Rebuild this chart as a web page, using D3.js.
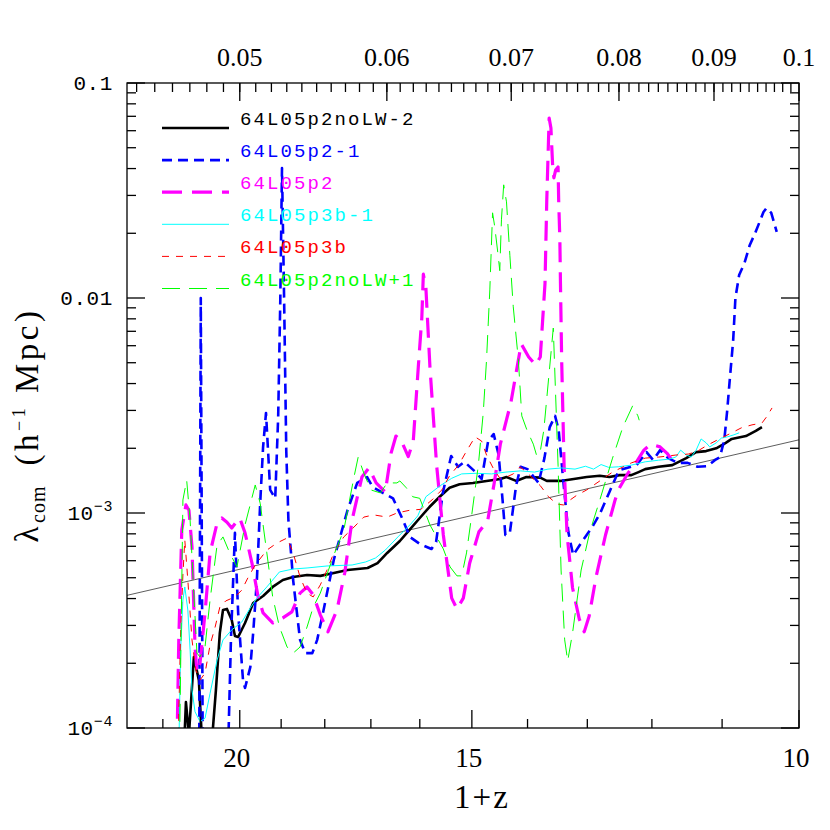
<!DOCTYPE html>
<html><head><meta charset="utf-8">
<script src="https://cdn.jsdelivr.net/npm/d3@7"></script>
<style>body{margin:0;background:#fff}</style>
</head><body>
<svg id="c" width="830" height="830"></svg>
<script>
// ---------- data (1+z, lambda_com in h^-1 Mpc) ----------
const seriesNames = ["64L05p2noLW-2","64L05p2-1","64L05p2","64L05p3b-1","64L05p3b","64L05p2noLW+1"];
const seriesColors = ["#000000","#0000ff","#ff00ff","#00ffff","#ff0000","#00ff00"];
const seriesWidths = [2.6,2.6,3.2,1,1,1];
const seriesDashes = [null,"10,6","20,10",null,"7,7","18,9"];

const black = [[21.43,8e-5],[21.38,1.32e-4],[21.30,9.3e-5],[21.17,2.14e-4],[21.04,1.67e-4],[20.96,8.8e-5],[20.70,8.8e-5],[20.60,1.5e-4],[20.50,2.77e-4],[20.42,3.54e-4],[20.32,3.58e-4],[20.20,3.18e-4],[20.12,2.68e-4],[20.04,2.65e-4],[19.87,3.08e-4],[19.67,3.81e-4],[19.43,4.11e-4],[19.20,4.53e-4],[18.96,4.88e-4],[18.72,5.04e-4],[18.40,5.15e-4],[18.10,5.1e-4],[17.80,5.26e-4],[17.50,5.43e-4],[17.07,5.55e-4],[16.86,5.85e-4],[16.66,6.52e-4],[16.40,7.41e-4],[16.21,8.33e-4],[16.00,9.48e-4],[15.81,1.066e-3],[15.61,1.19e-3],[15.42,1.31e-3],[15.23,1.36e-3],[14.98,1.38e-3],[14.73,1.41e-3],[14.48,1.44e-3],[14.37,1.47e-3],[14.20,1.41e-3],[14.02,1.47e-3],[13.78,1.46e-3],[13.67,1.41e-3],[13.44,1.41e-3],[13.22,1.44e-3],[13.01,1.47e-3],[12.80,1.49e-3],[12.65,1.47e-3],[12.49,1.5e-3],[12.31,1.5e-3],[12.20,1.55e-3],[12.10,1.6e-3],[11.90,1.64e-3],[11.70,1.67e-3],[11.50,1.8e-3],[11.36,1.92e-3],[11.22,1.94e-3],[11.08,2.0e-3],[10.95,2.12e-3],[10.87,2.21e-3],[10.68,2.28e-3],[10.55,2.41e-3],[10.47,2.51e-3]];

const blue = [[21.03,8e-5],[20.99,1.0e-2],[20.94,8e-5],[20.29,8e-5],[20.22,2.57e-4],[20.12,8.09e-4],[20.04,3.43e-4],[19.92,1.67e-4],[19.87,1.535e-4],[19.74,1.92e-4],[19.67,2.77e-4],[19.58,4.88e-4],[19.50,1.11e-3],[19.43,2.03e-3],[19.36,2.92e-3],[19.26,1.28e-3],[19.14,1.17e-3],[19.07,2.8e-3],[19.02,9.8e-3],[18.98,4.02e-2],[18.93,9.8e-3],[18.88,1.96e-3],[18.83,9.3e-4],[18.72,4.88e-4],[18.56,2.57e-4],[18.44,2.23e-4],[18.28,2.23e-4],[18.17,2.57e-4],[18.04,3.43e-4],[17.80,6.05e-4],[17.50,1.03e-3],[17.29,1.38e-3],[17.08,1.47e-3],[16.96,1.32e-3],[16.75,1.24e-3],[16.54,1.17e-3],[16.34,9.3e-4],[16.20,7.74e-4],[16.00,7.18e-4],[15.77,6.8e-4],[15.68,7.33e-4],[15.55,1.24e-3],[15.39,1.84e-3],[15.26,1.64e-3],[15.14,1.73e-3],[14.93,1.55e-3],[14.82,1.44e-3],[14.70,2.16e-3],[14.60,2.33e-3],[14.51,1.86e-3],[14.44,1.15e-3],[14.39,7.9e-4],[14.31,8.1e-4],[14.20,1.34e-3],[14.12,1.64e-3],[14.00,1.6e-3],[13.89,1.47e-3],[13.81,1.38e-3],[13.71,1.8e-3],[13.62,2.51e-3],[13.53,2.83e-3],[13.47,2.43e-3],[13.39,1.38e-3],[13.31,8.17e-4],[13.23,6.37e-4],[13.09,7.33e-4],[12.93,8.52e-4],[12.80,9.9e-4],[12.65,1.25e-3],[12.50,1.58e-3],[12.38,1.62e-3],[12.23,1.67e-3],[12.08,1.92e-3],[11.98,1.76e-3],[11.88,1.96e-3],[11.76,1.8e-3],[11.62,1.71e-3],[11.48,1.71e-3],[11.34,1.64e-3],[11.20,1.65e-3],[11.10,1.76e-3],[11.03,1.82e-3],[10.97,2.19e-3],[10.93,3.01e-3],[10.90,4.02e-3],[10.85,6.37e-3],[10.82,1e-2],[10.77,1.28e-2],[10.70,1.45e-2],[10.63,1.76e-2],[10.56,2.0e-2],[10.50,2.26e-2],[10.45,2.51e-2],[10.41,2.62e-2],[10.35,2.49e-2],[10.28,2.03e-2]];

const magenta = [[21.62,8e-5],[21.57,2.57e-4],[21.49,8.33e-4],[21.38,1.09e-3],[21.30,1.03e-3],[21.22,6.95e-4],[21.14,2.38e-4],[21.09,1.82e-4],[21.01,2.0e-4],[20.88,3.43e-4],[20.75,6.52e-4],[20.57,8.98e-4],[20.45,9.48e-4],[20.32,9.06e-4],[20.20,8.52e-4],[20.07,9.17e-4],[20.00,9.48e-4],[19.87,8.09e-4],[19.70,5.85e-4],[19.55,4.07e-4],[19.43,3.43e-4],[19.20,3.08e-4],[18.96,3.25e-4],[18.75,3.47e-4],[18.56,4.24e-4],[18.40,4.53e-4],[18.26,4.16e-4],[18.10,3.36e-4],[17.93,2.8e-4],[17.73,3.54e-4],[17.56,5.26e-4],[17.40,9.3e-4],[17.19,1.47e-3],[17.04,1.62e-3],[16.89,1.38e-3],[16.70,1.25e-3],[16.58,1.9e-3],[16.48,2.28e-3],[16.38,2.19e-3],[16.23,1.83e-3],[16.13,2.16e-3],[16.03,4.77e-3],[15.96,8.09e-3],[15.93,1.29e-2],[15.88,1.12e-2],[15.80,4.77e-3],[15.67,1.67e-3],[15.54,7.9e-4],[15.38,4.02e-4],[15.28,3.58e-4],[15.16,4.02e-4],[15.04,5.85e-4],[14.87,8.17e-4],[14.71,9.17e-4],[14.59,1.38e-3],[14.48,2.09e-3],[14.29,3.28e-3],[14.11,6.12e-3],[13.98,5.32e-3],[13.86,4.88e-3],[13.78,5.32e-3],[13.70,1.17e-2],[13.67,2.86e-2],[13.63,6.87e-2],[13.60,6.18e-2],[13.57,4.07e-2],[13.55,3.62e-2],[13.52,3.94e-2],[13.48,4.07e-2],[13.47,2.86e-2],[13.45,1.86e-2],[13.44,1.17e-2],[13.42,5.15e-3],[13.38,1.67e-3],[13.33,7.9e-4],[13.24,4.48e-4],[13.13,3.21e-4],[13.05,2.8e-4],[12.97,3.32e-4],[12.86,5.04e-4],[12.71,7.9e-4],[12.56,1.15e-3],[12.51,1.28e-3],[12.36,1.535e-3],[12.24,1.71e-3],[12.12,1.96e-3],[12.02,2.09e-3],[11.88,2.03e-3],[11.78,1.9e-3],[11.66,1.69e-3]];

const cyan = [[21.57,8e-5],[21.52,2.31e-4],[21.46,3.94e-4],[21.41,4.53e-4],[21.33,3.54e-4],[21.27,2.31e-4],[21.22,1.5e-4],[21.14,1.19e-4],[21.01,1.07e-4],[20.88,1.11e-4],[20.75,1.45e-4],[20.57,2.07e-4],[20.42,2.57e-4],[20.20,2.86e-4],[19.95,3.11e-4],[19.74,3.62e-4],[19.58,4.02e-4],[19.34,4.53e-4],[19.04,5.32e-4],[18.72,5.49e-4],[18.40,5.55e-4],[17.95,5.67e-4],[17.40,5.73e-4],[17.11,5.92e-4],[16.90,6.18e-4],[16.70,6.72e-4],[16.44,7.74e-4],[16.18,8.89e-4],[16.04,9.7e-4],[15.88,1.19e-3],[15.60,1.34e-3],[15.38,1.45e-3],[15.19,1.52e-3],[14.92,1.53e-3],[14.64,1.52e-3],[14.38,1.55e-3],[14.12,1.57e-3],[13.88,1.55e-3],[13.65,1.6e-3],[13.42,1.62e-3],[13.20,1.6e-3],[13.03,1.65e-3],[12.90,1.6e-3],[12.78,1.68e-3],[12.66,1.63e-3],[12.51,1.64e-3],[12.31,1.67e-3],[12.10,1.73e-3],[11.90,1.76e-3],[11.75,1.78e-3],[11.65,1.82e-3],[11.58,1.96e-3],[11.50,1.86e-3],[11.43,1.82e-3],[11.36,1.96e-3],[11.29,2.21e-3],[11.22,2.12e-3],[11.17,2.03e-3],[11.08,2.12e-3],[11.01,2.23e-3],[10.93,2.26e-3],[10.84,2.31e-3],[10.77,2.36e-3]];

const red = [[21.59,8e-5],[21.52,2.86e-4],[21.46,5.15e-4],[21.41,7.5e-4],[21.33,4.88e-4],[21.22,2.57e-4],[21.12,1.86e-4],[21.01,1.67e-4],[20.88,1.8e-4],[20.75,2.43e-4],[20.62,2.95e-4],[20.50,3.65e-4],[20.35,3.9e-4],[20.12,4.07e-4],[19.95,4.38e-4],[19.80,4.99e-4],[19.62,5.73e-4],[19.34,6.72e-4],[19.10,7.25e-4],[18.86,7.65e-4],[18.72,6.52e-4],[18.56,5.04e-4],[18.40,4.24e-4],[18.26,4.07e-4],[18.10,4.63e-4],[17.95,5.43e-4],[17.80,6.52e-4],[17.58,7.74e-4],[17.36,8.6e-4],[17.15,9.57e-4],[16.94,9.8e-4],[16.66,9.57e-4],[16.46,1.0e-3],[16.20,1.03e-3],[15.98,1.04e-3],[15.76,1.15e-3],[15.57,1.28e-3],[15.42,1.49e-3],[15.25,1.67e-3],[15.10,1.94e-3],[14.94,2.26e-3],[14.82,2.16e-3],[14.73,1.86e-3],[14.60,1.6e-3],[14.48,1.44e-3],[14.37,1.47e-3],[14.25,1.52e-3],[14.13,1.64e-3],[14.02,1.55e-3],[13.90,1.44e-3],[13.78,1.34e-3],[13.64,1.19e-3],[13.50,1.1e-3],[13.39,1.09e-3],[13.28,1.15e-3],[13.17,1.21e-3],[13.01,1.28e-3],[12.80,1.41e-3],[12.60,1.55e-3],[12.31,1.71e-3],[12.10,1.8e-3],[11.90,1.82e-3],[11.65,1.86e-3],[11.47,1.88e-3],[11.34,1.94e-3],[11.20,2.07e-3],[11.06,2.19e-3],[10.87,2.36e-3],[10.74,2.49e-3],[10.60,2.57e-3],[10.47,2.62e-3],[10.41,2.8e-3],[10.34,3.08e-3]];

const green = [[21.55,8e-5],[21.46,1.15e-3],[21.36,1.42e-3],[21.27,9.3e-4],[21.19,4.88e-4],[21.09,2.23e-4],[21.01,2.14e-4],[20.88,2.38e-4],[20.75,3.94e-4],[20.62,6.05e-4],[20.57,7.1e-4],[20.42,7.74e-4],[20.25,6.52e-4],[20.07,5.61e-4],[19.87,8.8e-4],[19.62,1.35e-3],[19.50,1.11e-3],[19.34,6.52e-4],[19.20,4.07e-4],[19.04,2.95e-4],[18.86,2.38e-4],[18.72,2.23e-4],[18.56,2.38e-4],[18.40,2.95e-4],[18.26,3.65e-4],[18.10,4.24e-4],[17.80,6.37e-4],[17.58,8.33e-4],[17.36,1.47e-3],[17.27,1.82e-3],[17.15,1.535e-3],[17.00,1.28e-3],[16.80,1.24e-3],[16.66,1.38e-3],[16.46,1.38e-3],[16.40,1.41e-3],[16.27,1.31e-3],[16.14,1.19e-3],[16.00,1.17e-3],[15.80,8.8e-4],[15.54,6.8e-4],[15.41,5.61e-4],[15.28,5.1e-4],[15.19,5.1e-4],[15.10,6.52e-4],[15.01,9.48e-4],[14.88,1.67e-3],[14.79,2.92e-3],[14.73,5.15e-3],[14.67,1.09e-2],[14.62,2.49e-2],[14.58,2.14e-2],[14.52,1.58e-2],[14.49,1.34e-2],[14.46,2.31e-2],[14.42,3.36e-2],[14.37,2.8e-2],[14.31,1.58e-2],[14.25,9.1e-3],[14.16,5.15e-3],[14.10,2.83e-3],[14.01,2.43e-3],[13.90,2.09e-3],[13.84,1.84e-3],[13.78,1.94e-3],[13.72,2.43e-3],[13.56,7.25e-3],[13.48,1.67e-3],[13.43,5.43e-4],[13.37,2.57e-4],[13.32,2.05e-4],[13.24,2.77e-4],[13.10,5.43e-4],[12.96,8.17e-4],[12.80,1.15e-3],[12.60,1.8e-3],[12.44,2.51e-3],[12.29,3.15e-3],[12.21,2.83e-3],[12.19,2.7e-3]];

// reference power law line (thin)
const refLine = [[23,4.14e-4],[10,2.19e-3]];

// tick values and labels
const bottomMajor = [20,15,10];
const bottomMinor = [22,21,19,18,17,16,14,13,12,11];
const topMajor = [0.05,0.06,0.07,0.08,0.09,0.1];
const topLabels = ["0.05","0.06","0.07","0.08","0.09","0.1"];
const topMinorA = d3.range(44,100).map(v=>v/1000);
const leftMajor = [1e-4,1e-3,1e-2,1e-1];
const leftLabels = [["10","\u22124"],["10","\u22123"],["0.01",null],["0.1",null]];

const allSeries = [black,blue,magenta,cyan,red,green];

// ---------- drawing ----------
const svg = d3.select("#c");
const X0=127,X1=799,Y0=83,Y1=728;
const x = d3.scaleLog().domain([23,10]).range([X0,X1]);
const y = d3.scaleLog().domain([1e-4,0.1]).range([Y1,Y0]);

svg.append("rect").attr("width",830).attr("height",830).attr("fill","#fff");
svg.append("defs").append("clipPath").attr("id","pc").append("rect")
  .attr("x",X0).attr("y",Y0).attr("width",X1-X0).attr("height",Y1-Y0);

const line = d3.line().x(d=>x(d[0])).y(d=>y(d[1]));
const plot = svg.append("g").attr("clip-path","url(#pc)");

plot.append("path").datum(refLine).attr("d",line).attr("fill","none")
  .attr("stroke","#333").attr("stroke-width",0.8);

allSeries.forEach((s,i)=>{
  plot.append("path").datum(s).attr("d",line).attr("fill","none")
    .attr("stroke",seriesColors[i]).attr("stroke-width",seriesWidths[i])
    .attr("stroke-dasharray",seriesDashes[i])
    .attr("stroke-linejoin","round");
});

// frame
const ax = svg.append("g").attr("stroke","#000").attr("stroke-width",1.3);
ax.append("rect").attr("x",X0).attr("y",Y0).attr("width",X1-X0).attr("height",Y1-Y0).attr("fill","none");

const MAJ=18, MIN=9;
bottomMajor.forEach(v=>{ax.append("line").attr("x1",x(v)).attr("x2",x(v)).attr("y1",Y1).attr("y2",Y1-MAJ);});
bottomMinor.forEach(v=>{ax.append("line").attr("x1",x(v)).attr("x2",x(v)).attr("y1",Y1).attr("y2",Y1-MIN);});
topMajor.forEach(a=>{ax.append("line").attr("x1",x(1/a)).attr("x2",x(1/a)).attr("y1",Y0).attr("y2",Y0+MAJ);});
topMinorA.forEach(a=>{ if(x(1/a)>X0+1) ax.append("line").attr("x1",x(1/a)).attr("x2",x(1/a)).attr("y1",Y0).attr("y2",Y0+MIN);});
const yMinor=[];
[1e-4,1e-3,1e-2].forEach(d=>{for(let m=2;m<=9;m++) yMinor.push(m*d);});
leftMajor.forEach(v=>{
  ax.append("line").attr("x1",X0).attr("x2",X0+MAJ).attr("y1",y(v)).attr("y2",y(v));
  ax.append("line").attr("x1",X1).attr("x2",X1-MAJ).attr("y1",y(v)).attr("y2",y(v));
});
yMinor.forEach(v=>{
  ax.append("line").attr("x1",X0).attr("x2",X0+MIN).attr("y1",y(v)).attr("y2",y(v));
  ax.append("line").attr("x1",X1).attr("x2",X1-MIN).attr("y1",y(v)).attr("y2",y(v));
});

// tick labels
const serif = "'Liberation Serif','DejaVu Serif',serif";
const mono = "'Liberation Mono','DejaVu Sans Mono',monospace";
bottomMajor.forEach(v=>{
  svg.append("text").attr("x",x(v)-3).attr("y",767).attr("text-anchor","middle")
    .attr("font-family",serif).attr("font-size",27).text(String(v));
});
topMajor.forEach((a,i)=>{
  svg.append("text").attr("x",x(1/a)).attr("y",66).attr("text-anchor","middle")
    .attr("font-family",serif).attr("font-size",26).text(topLabels[i]);
});
leftMajor.forEach((v,i)=>{
  const t = svg.append("text").attr("x",113).attr("y",y(v)+7).attr("text-anchor","end")
    .attr("font-family",mono).attr("font-size",21).attr("letter-spacing",0.6);
  t.append("tspan").text(leftLabels[i][0]);
  if(leftLabels[i][1]) t.append("tspan").attr("dy",-9).attr("font-size",15).text(leftLabels[i][1]);
});

// axis titles
svg.append("text").attr("x",482).attr("y",808).attr("text-anchor","middle")
  .attr("font-family",serif).attr("font-size",33).attr("letter-spacing",2).text("1+z");
const yt = svg.append("text").attr("transform","translate(38,425) rotate(-90)")
  .attr("text-anchor","middle").attr("font-family",serif).attr("font-size",33)
  .attr("letter-spacing",3.5);
yt.append("tspan").text("\u03bb");
yt.append("tspan").attr("font-size",20).attr("dy",7).attr("letter-spacing",1).text("com");
yt.append("tspan").attr("dy",-7).text("\u2002(h");
yt.append("tspan").attr("font-size",18).attr("dy",-13).text("\u22121");
yt.append("tspan").attr("dy",13).text(" Mpc)");

// legend
seriesNames.forEach((n,i)=>{
  const ly = 128 + 32.1*i;
  svg.append("line").attr("x1",162).attr("x2",229).attr("y1",ly).attr("y2",ly)
    .attr("stroke",seriesColors[i]).attr("stroke-width",seriesWidths[i])
    .attr("stroke-dasharray",seriesDashes[i]);
  svg.append("text").attr("x",240).attr("y",ly-3).attr("font-family",mono)
    .attr("font-size",19).attr("letter-spacing",2.1).attr("fill",seriesColors[i]).text(n);
});
</script>
</body></html>
